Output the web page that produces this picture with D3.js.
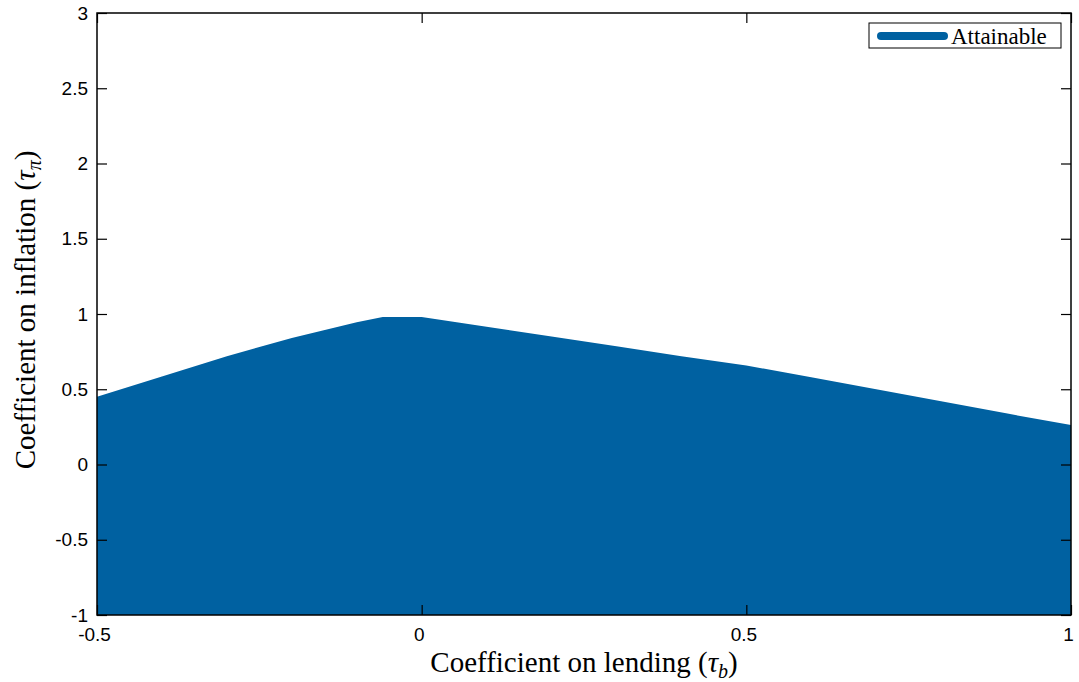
<!DOCTYPE html>
<html>
<head>
<meta charset="utf-8">
<script src="https://cdn.jsdelivr.net/npm/d3@7"></script>
<style>
  html, body { margin: 0; padding: 0; background: #fff; }
  svg { display: block; }
</style>
</head>
<body>
<svg id="chart" width="1079" height="682"></svg>
<script>
// Boundary of the attainable region (tau_b, upper tau_pi)
const tauB  = [-0.5, -0.4, -0.3, -0.2, -0.1, -0.06, 0.0, 0.1, 0.2, 0.3, 0.4, 0.5, 0.6, 0.7, 0.8, 0.9, 1.0];
const tauPi = [0.45, 0.585, 0.72, 0.84, 0.945, 0.98, 0.98, 0.915, 0.85, 0.785, 0.72, 0.658, 0.58, 0.5, 0.42, 0.34, 0.262];
const yFloor = -1;

const xTicks = [-0.5, 0, 0.5, 1];
const xTickLabels = ["-0.5", "0", "0.5", "1"];
const yTicks = [-1, -0.5, 0, 0.5, 1, 1.5, 2, 2.5, 3];
const yTickLabels = ["-1", "-0.5", "0", "0.5", "1", "1.5", "2", "2.5", "3"];
const legendLabel = "Attainable";

const svg = d3.select("#chart");
const L = 97, R = 1071, T = 13, B = 615;
const blue = "#0061a1";

const x = d3.scaleLinear().domain([-0.5, 1]).range([L, R]);
const y = d3.scaleLinear().domain([-1, 3]).range([B, T]);

const pts = tauB.map((b, i) => ({ b, p: tauPi[i] }));
const area = d3.area()
  .x(d => x(d.b))
  .y0(y(yFloor))
  .y1(d => y(d.p))
  .curve(d3.curveLinear);

svg.append("path").datum(pts).attr("d", area).attr("fill", blue);

const tickFont = "'Liberation Sans', Arial, sans-serif";
const tickLen = 10;

// Axes (MATLAB style, ticks inside, mirrored)
const gB = svg.append("g").attr("transform", `translate(0,${B})`)
  .call(d3.axisBottom(x).tickValues(xTicks).tickSizeInner(-tickLen).tickSizeOuter(0)
    .tickFormat((d, i) => xTickLabels[i]).tickPadding(13));
const gT = svg.append("g").attr("transform", `translate(0,${T})`)
  .call(d3.axisTop(x).tickValues(xTicks).tickSizeInner(-tickLen).tickSizeOuter(0).tickFormat(""));
const gL = svg.append("g").attr("transform", `translate(${L},0)`)
  .call(d3.axisLeft(y).tickValues(yTicks).tickSizeInner(-tickLen).tickSizeOuter(0)
    .tickFormat((d, i) => yTickLabels[i]).tickPadding(9));
const gR = svg.append("g").attr("transform", `translate(${R},0)`)
  .call(d3.axisRight(y).tickValues(yTicks).tickSizeInner(-tickLen).tickSizeOuter(0).tickFormat(""));

[gB, gT, gL, gR].forEach(g => {
  g.select(".domain").remove();
  g.selectAll(".tick line").attr("stroke", "#000").attr("stroke-width", 1.2);
  g.selectAll("text").attr("font-family", tickFont).attr("font-size", 19).attr("fill", "#000");
});
gB.selectAll("text").attr("dy", "0.71em").attr("dx", -3);

// Box
svg.append("rect").attr("x", L).attr("y", T).attr("width", R - L).attr("height", B - T)
  .attr("fill", "none").attr("stroke", "#000").attr("stroke-width", 1.5);

const serif = "'Liberation Serif', 'DejaVu Serif', serif";

// X label
const xl = svg.append("text")
  .attr("x", (L + R) / 2).attr("y", 672)
  .attr("text-anchor", "middle")
  .attr("font-family", serif).attr("font-size", 29).attr("fill", "#000");
xl.append("tspan").text("Coefficient on lending (");
xl.append("tspan").attr("font-style", "italic").text("τ");
xl.append("tspan").attr("font-style", "italic").attr("font-size", 20).attr("dy", 6).text("b");
xl.append("tspan").attr("dy", -6).text(")");

// Y label
const yl = svg.append("text")
  .attr("transform", `translate(35,${310}) rotate(-90)`)
  .attr("text-anchor", "middle")
  .attr("font-family", serif).attr("font-size", 29).attr("fill", "#000");
yl.append("tspan").text("Coefficient on inflation (");
yl.append("tspan").attr("font-style", "italic").text("τ");
yl.append("tspan").attr("font-style", "italic").attr("font-size", 20).attr("dy", 6).text("π");
yl.append("tspan").attr("dy", -6).text(")");

// Legend
const lg = svg.append("g");
lg.append("rect").attr("x", 869).attr("y", 23).attr("width", 192).attr("height", 25)
  .attr("fill", "#fff").attr("stroke", "#000").attr("stroke-width", 1);
lg.append("line").attr("x1", 881).attr("x2", 944).attr("y1", 36).attr("y2", 36)
  .attr("stroke", blue).attr("stroke-width", 8).attr("stroke-linecap", "round");
lg.append("text").attr("x", 951).attr("y", 44)
  .attr("font-family", serif).attr("font-size", 23).attr("fill", "#000").text(legendLabel);
</script>
</body>
</html>
